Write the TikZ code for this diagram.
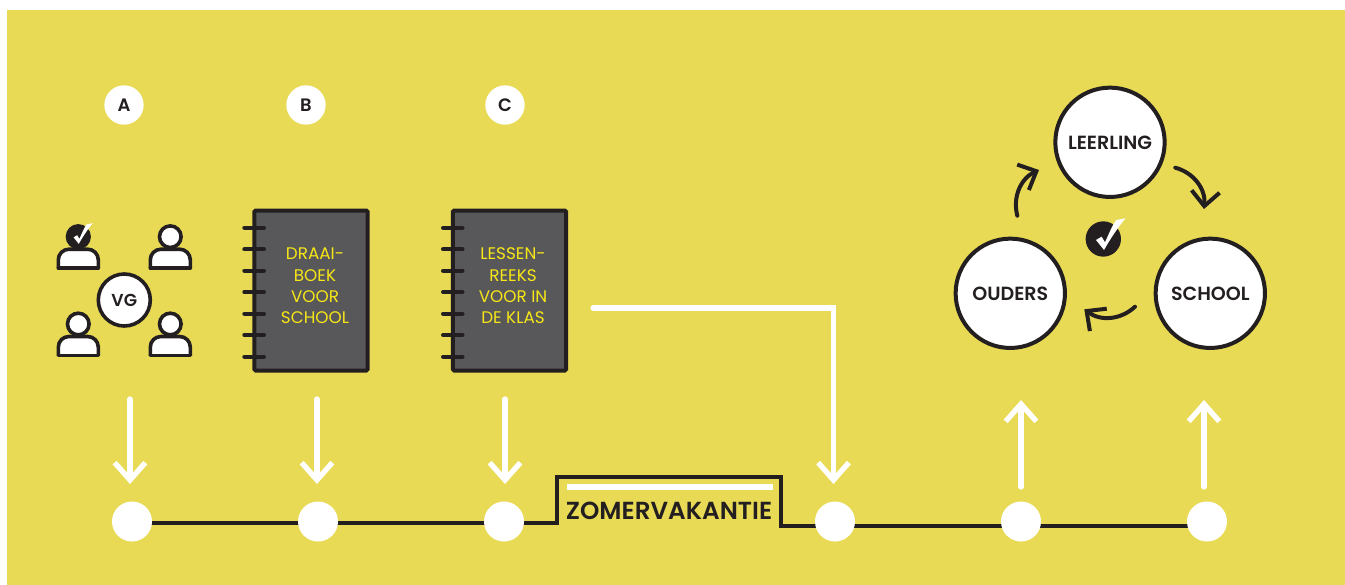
\documentclass[tikz,border=0pt]{standalone}
\usepackage{xcolor}
\usepackage{fontspec}
\setmainfont{Poppins}[BoldFont={Poppins SemiBold}]
\usetikzlibrary{positioning}
\usetikzlibrary{arrows.meta}
\definecolor{bgyellow}{HTML}{E9DA55}
\definecolor{inkdark}{HTML}{231F20}
\definecolor{bookgrey}{HTML}{58575A}
\definecolor{bookyellow}{HTML}{F7E716}
\tikzset{
  stop/.style={circle,fill=white,minimum size=30pt,inner sep=0pt},
  badge/.style={circle,fill=white,minimum size=29.5pt,inner sep=0pt,text=inkdark,font=\bfseries\fontsize{13.5}{15}\selectfont},
  actor/.style={circle,draw=inkdark,fill=white,line width=3pt,minimum size=82pt,inner sep=0pt,text=inkdark,text depth=0pt,font=\bfseries\fontsize{14.3}{16}\selectfont},
  tick/.style={circle,fill=inkdark,inner sep=0pt},
  whitearrow/.style={draw=white,line width=4pt,line cap=round,line join=miter,-{Straight Barb[length=13pt,width=23pt,line width=4pt]}},
  darkarrow/.style={draw=inkdark,line width=3pt,line cap=round,-{Straight Barb[length=11pt,width=21pt,line width=3pt]}},
  timeline/.style={draw=inkdark,line width=2.7pt,line join=miter},
  bookcover/.style={draw=inkdark,fill=bookgrey,line width=3pt,rounded corners=1pt,minimum width=85pt,minimum height=120pt,inner sep=0pt},
  booktext/.style={text=bookyellow,align=center,font=\fontsize{12.6}{16}\selectfont},
  ring/.style={draw=inkdark,line width=3pt,line cap=round},
  pics/vink/.style={code={
    \fill[white] (-7.3,1) -- (-1.7,-2.3) -- (1.7,3.3) .. controls (6,-6) and (9,-14) .. (13,-19)
      -- (22.3,-20.7) .. controls (14,-11) and (7,0) .. (0.7,11) -- cycle;
  }},
  pics/person/.style={code={
    \draw[draw=inkdark,fill=#1,line width=2.7pt] (0,0) circle (10.8);
    \draw[draw=inkdark,fill=white,line width=2.7pt,rounded corners=8pt] (-20,31.5) -- (-20,12.5) -- (20,12.5) -- (20,31.5);
    \draw[draw=inkdark,line width=2.7pt,line cap=round] (-20,31.5) -- (20,31.5);
  }},
  pics/person/.default=white
}
\begin{document}
\begin{tikzpicture}[x=0.75pt,y=-0.75pt,node distance=139.5pt]
\useasboundingbox (0,0) rectangle (1345,585);
\fill[bgyellow] (7,10) rectangle (1345,585);

% timeline
\coordinate (stepA) at (557,523);
\coordinate (stepB) at (557,477);
\coordinate (stepC) at (781,477);
\coordinate (stepD) at (781,526);
\draw[timeline] (132,523) -- (stepA) -- (stepB) -- (stepC) -- (stepD) -- (1207,526);
\node[stop] (T1) at (132,521.5) {};
\node[stop] (T2) [right of=T1] {};
\node[stop] (T3) [right of=T2] {};
\node[stop] (T4) at (835,521.5) {};
\node[stop] (T5) [right of=T4] {};
\node[stop] (T6) [right of=T5] {};
\coordinate (barL) at (567,487);
\coordinate (barR) at (773,487);
\draw[draw=white,line width=3.8pt] (barL) -- (barR);
\node[text=inkdark,font=\bfseries\fontsize{18.5}{20}\selectfont] (Z) at (669,511) {ZOMERVAKANTIE};

% letters
\node[badge] (A) at (124,105) {A};
\node[badge] (B) at (306,105) {B};
\node[badge] (C) at (505,105) {C};

% group
\pic at (78.3,236.7) {person={inkdark}};
\pic at (170.3,236.7) {person};
\pic at (78.3,324) {person};
\pic at (170.3,324) {person};
\pic at (78.3,236.7) [scale=0.65] {vink};
\node[circle,draw=inkdark,fill=white,line width=2.7pt,minimum size=39pt,inner sep=0pt,text=inkdark,font=\bfseries\fontsize{13}{15}\selectfont] (VG) at (124.3,300) {VG};

% books
\node[bookcover] (boekB) at (311,290.5) {};
\node[bookcover] (boekC) [right=148.9pt of boekB.center,anchor=center] {};
\foreach \y in {227.7,249.3,270.7,292,313.7,335,356.7} {
  \draw[ring] (244.3,\y) -- (264,\y);
  \draw[ring] (443,\y) -- (462.5,\y);
}
\node[booktext] (tekstB) at (315,286) {DRAAI-\\BOEK\\VOOR\\SCHOOL};
\node[booktext] (tekstC) at (513,286) {LESSEN-\\REEKS\\VOOR IN\\DE KLAS};

% arrows
\coordinate (a1) at (130,399);
\coordinate (b1) at (317,399);
\coordinate (c1) at (505,399);
\coordinate (d1) at (593,308);
\coordinate (d2) at (833.5,308);
\coordinate (e1) at (1021,487);
\coordinate (f1) at (1204,487);
\path (a1) edge[whitearrow] (130,484)
      (b1) edge[whitearrow] (317,484)
      (c1) edge[whitearrow] (505,484)
      (e1) edge[whitearrow] (1021,400)
      (f1) edge[whitearrow] (1204,400);
\draw[whitearrow] (d1) -- (d2) -- (833.5,484);

% triangle
\node[actor] (L) at (1110,142.3) {LEERLING};
\node[actor] (O) at (1010.3,293.3) {OUDERS};
\node[actor] (S) at (1210.3,293.3) {SCHOOL};
\node[tick,minimum size=26.5pt] (K) at (1103.3,239) {};
\pic at (K) {vink};
\coordinate (p1) at (1017.3,215.7);
\coordinate (p2) at (1039,170);
\coordinate (q1) at (1175.3,167.7);
\coordinate (q2) at (1204,209);
\coordinate (r1) at (1135,306.7);
\coordinate (r2) at (1084.3,309.3);
\path (p1) edge[darkarrow,bend left=40] (p2)
      (q1) edge[darkarrow,bend left=40] (q2)
      (r1) edge[darkarrow,bend left=40] (r2);
\end{tikzpicture}
\end{document}
